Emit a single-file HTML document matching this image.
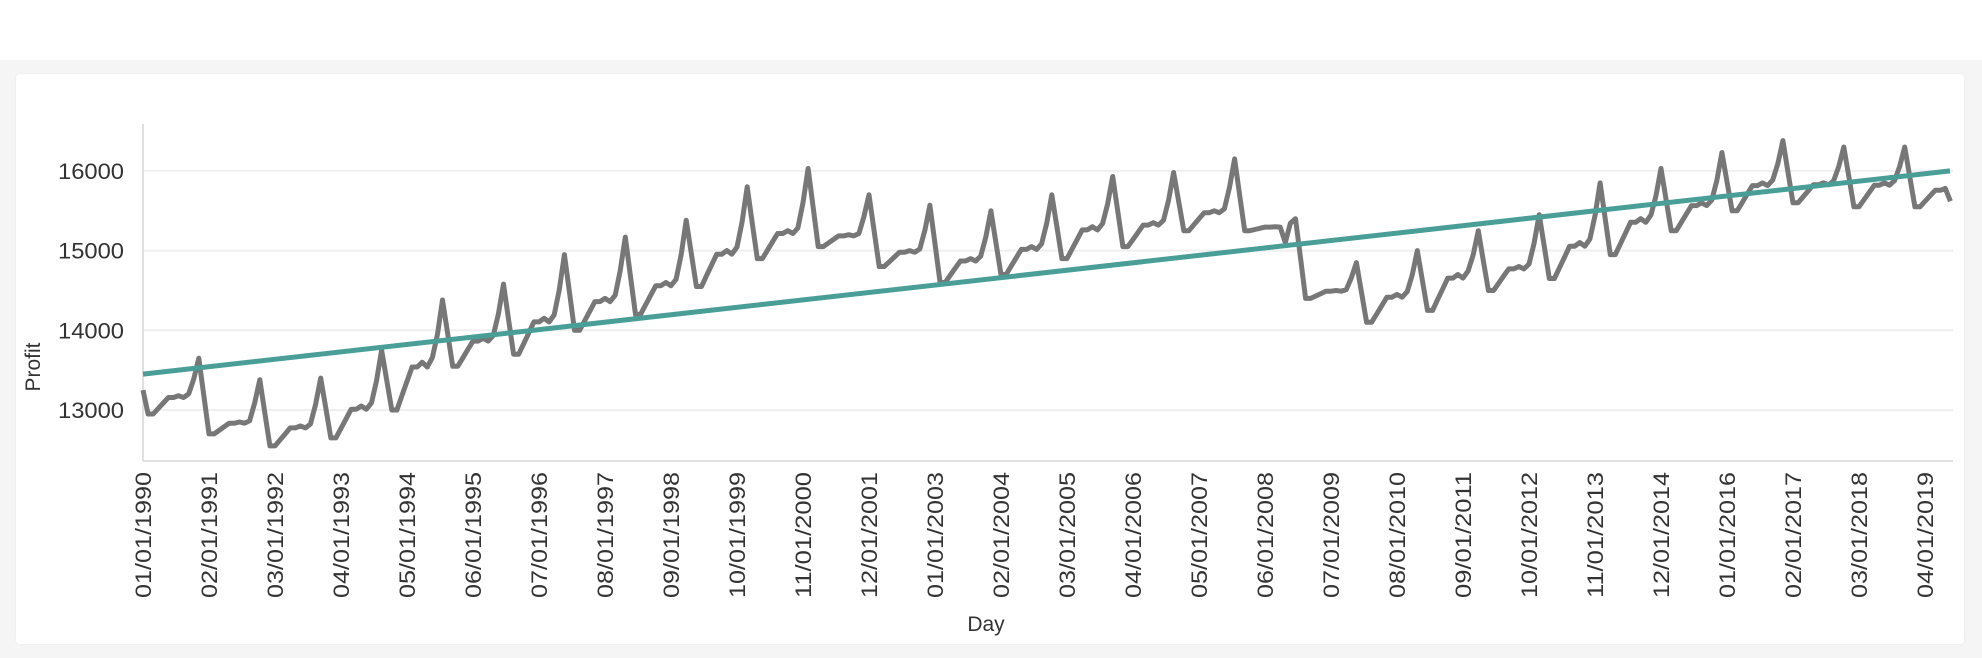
<!DOCTYPE html>
<html><head><meta charset="utf-8"><style>
html,body{margin:0;padding:0;width:1982px;height:658px;overflow:hidden;background:#f5f5f5;font-family:"Liberation Sans",sans-serif;}
#top{position:absolute;left:0;top:0;width:1982px;height:60px;background:#fff;}
#card{position:absolute;left:16px;top:74px;width:1948px;height:570px;background:#fff;border-radius:4px;box-shadow:0 0 2px rgba(0,0,0,0.06);}
svg{position:absolute;left:0;top:0;}
</style></head><body>
<div id="top"></div><div id="card"></div>
<svg id="s" width="1982" height="658" xmlns="http://www.w3.org/2000/svg"></svg>
<script>
var s=document.getElementById('s');
var X0=143,DX=5.077;
function Y(v){return 410-(v-13000)*0.0797;}
var h='';
[13000,14000,15000,16000].forEach(function(v){
 var y=Y(v);
 h+='<line x1="143" x2="1953" y1="'+y+'" y2="'+y+'" stroke="#efefef" stroke-width="2"/>';
 h+='<text x="124" y="'+(y+8)+'" text-anchor="end" font-size="22" fill="#333" textLength="66" lengthAdjust="spacingAndGlyphs">'+v+'</text>';
});
h+='<line x1="143" x2="143" y1="124" y2="461" stroke="#e0e0e0" stroke-width="2"/>';
h+='<line x1="143" x2="1953" y1="461" y2="461" stroke="#e0e0e0" stroke-width="2"/>';
var yr=[[12950,13180,13650],[12700,12850,13380],[12550,12800,13400],[12650,13050,13750],[13000,13600,14380],[13550,13900,14580],[13700,14150,14950],[14000,14400,15170],[14200,14600,15380],[14550,15000,15800],[14900,15250,16030],[15050,15200,15700],[14800,15000,15570],[14600,14900,15500],[14700,15050,15700],[14900,15300,15930],[15050,15350,15980],[15250,15500,16150],[15250,15300,15400],[14400,14500,14850],[14100,14450,15000],[14250,14700,15250],[14500,14800,15450],[14650,15100,15850],[14950,15400,16030],[15250,15600,16230],[15500,15850,16380],[15600,15850,16300],[15550,15850,16300],[15550,15780,15780]];
var f=[null,0,0,0.3,0.6,0.9,0.9,1,0.9,1.1,null,null];
var vals=[];
for(var i=0;i<357;i++){
 var y=Math.floor(i/12),m=i%12,a=yr[y],L=a[0],d=a[1]-a[0],P=a[2],v;
 if(m==0){v=y==0?13250:(yr[y-1][2]+L)/2;}
 else if(m==10){v=L+d+0.45*(P-L-d);}
 else if(m==11){v=P;}
 else v=L+f[m]*d;
 if(y==18&&m==9)v=15100;
 if(y==29&&m==8)v=15620;
 vals.push(v);
}
var p='';
vals.forEach(function(v,i){p+=(i?'L':'M')+(X0+i*DX).toFixed(1)+' '+Y(v).toFixed(1);});
h+='<path d="'+p+'" fill="none" stroke="#777" stroke-width="5" stroke-linejoin="round"/>';
h+='<line x1="143" y1="'+Y(13450)+'" x2="1950" y2="'+Y(16000)+'" stroke="#4a9e98" stroke-width="5"/>';
for(var k=0;k<28;k++){
 var mo=k*13,yy=1990+Math.floor(mo/12),mm=mo%12+1;
 var lab=(mm<10?'0':'')+mm+'/01/'+yy,x=X0+mo*DX+8;
 h+='<text transform="translate('+x+',472) rotate(-90)" text-anchor="end" font-size="22" fill="#333" textLength="126" lengthAdjust="spacingAndGlyphs">'+lab+'</text>';
}
h+='<text transform="translate(40,367) rotate(-90)" text-anchor="middle" font-size="21" fill="#333">Profit</text>';
h+='<text x="986" y="631" text-anchor="middle" font-size="21" fill="#333">Day</text>';
s.innerHTML=h;
</script>
</body></html>
